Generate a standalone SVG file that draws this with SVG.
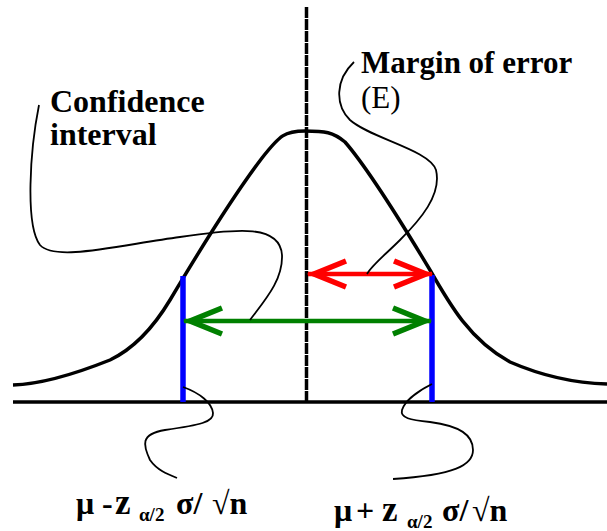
<svg xmlns="http://www.w3.org/2000/svg" width="607" height="531" viewBox="0 0 607 531">
<style>
.thick{fill:none;stroke:#000;stroke-width:3.5}
.callout{fill:none;stroke:#000;stroke-width:1.8}
.blue{stroke:#0000ff;stroke-width:5.5}
.lbl{font-family:"Liberation Serif","Times New Roman",serif;font-weight:bold;fill:#000}
.reg{font-family:"Liberation Serif","Times New Roman",serif;fill:#000}
.sub{font-size:19px}
.big{font-size:35px}
</style>
<defs>
<marker id="headR" markerUnits="userSpaceOnUse" viewBox="-40 -20 44 40" refX="0" refY="0" markerWidth="44" markerHeight="40" orient="auto-start-reverse">
<path d="M-38,-13 L-6,0 L-38,13" fill="none" stroke="#ff0000" stroke-width="5.5" stroke-miterlimit="10"/>
</marker>
<marker id="headG" markerUnits="userSpaceOnUse" viewBox="-40 -20 44 40" refX="0" refY="0" markerWidth="44" markerHeight="40" orient="auto-start-reverse">
<path d="M-38,-13 L-6,0 L-38,13" fill="none" stroke="#008000" stroke-width="5.5" stroke-miterlimit="10"/>
</marker>
</defs>
<g id="axes">
<line x1="13" y1="402" x2="607" y2="402" class="thick"/>
<line x1="306.5" y1="7" x2="306.5" y2="402" class="thick" stroke-dasharray="11 1"/>
</g>
<g id="bell-curve">
<path class="thick" d="M13,385 C45,384 80,372 110,360 C135,348 155,325 170,300 C195,258 230,200 262,158 C280,135 285,131 305,131 C325,131 333,132 345,142 C365,165 400,220 430,270 C450,305 470,340 510,362 C540,375 570,383 607,384"/>
</g>
<g id="bounds">
<line x1="183" y1="276" x2="183" y2="402" class="blue"/>
<line x1="432" y1="275" x2="432" y2="402" class="blue"/>
</g>
<g id="connectors">
<line x1="184" y1="321" x2="431" y2="321" stroke="#008000" stroke-width="4.5" marker-start="url(#headG)" marker-end="url(#headG)"/>
<line x1="308" y1="274" x2="432" y2="274" stroke="#ff0000" stroke-width="4.5" marker-start="url(#headR)" marker-end="url(#headR)"/>
<path class="callout" d="M39,105 C30,150 25,225 40,245 C55,262 120,245 180,237 C240,228 280,225 282,255 C283,280 265,300 250,320"/>
<path class="callout" d="M354,62 C335,80 335,105 350,120 C370,138 430,150 436,170 C442,195 420,220 400,240 C385,255 372,265 367,274"/>
<path class="callout" d="M183,387 C200,393 212,403 213,413 C214,422 200,425 165,430 C140,434 143,445 150,460 C157,470 167,474 177,478"/>
<path class="callout" d="M432,384 C420,390 405,400 402,410 C400,418 410,420 430,422 C460,426 473,435 473,450 C473,465 455,475 393,479"/>
</g>
<g id="label-ci">
<text class="lbl" font-size="32" x="50" y="112">Confidence</text>
<text class="lbl" font-size="32" x="50" y="145">interval</text>
</g>
<g id="label-moe">
<text class="lbl" font-size="31" x="361" y="73">Margin of error</text>
<text class="reg" font-size="31" x="361" y="108">(E)</text>
</g>
<g id="label-lower">
<text class="lbl" font-size="32" y="514"><tspan x="76">μ</tspan><tspan x="102">-</tspan><tspan x="115" class="big">z</tspan><tspan x="139" y="521" class="sub">α/2</tspan><tspan x="176" y="514">σ/</tspan><tspan x="212">√n</tspan></text>
</g>
<g id="label-upper">
<text class="lbl" font-size="32" y="521"><tspan x="334">μ</tspan><tspan x="356">+</tspan><tspan x="382" class="big">z</tspan><tspan x="407" y="528" class="sub">α/2</tspan><tspan x="442" y="521">σ/</tspan><tspan x="472">√n</tspan></text>
</g>
</svg>
